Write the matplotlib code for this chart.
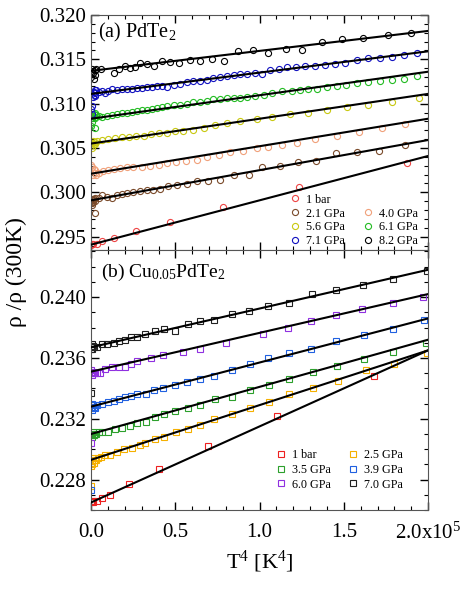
import numpy as np
import matplotlib
matplotlib.use('Agg')
import matplotlib.pyplot as plt

plt.rcParams['font.family'] = ['Liberation Serif', 'DejaVu Serif']
plt.rcParams['mathtext.fontset'] = 'custom'
plt.rcParams['mathtext.rm'] = 'Liberation Serif'
plt.rcParams['mathtext.it'] = 'Liberation Serif:italic'

# T^4 in units of 1e5 K^4, resistivity ratio rho/rho(300K)

# (a) PdTe2
a_labels = ['1 bar', '2.1 GPa', '4.0 GPa', '5.6 GPa', '6.1 GPa', '7.1 GPa', '8.2 GPa']
a_colors = ['#ee4444', '#7a4a2a', '#f0a07a', '#c8c810', '#22bb22', '#1010c0', '#000000']

a_x_1bar = [0.0, 0.005, 0.014, 0.034, 0.063, 0.133, 0.267, 0.469, 0.785, 1.234, 1.873]
a_y_1bar = [0.2941, 0.2942, 0.2942, 0.2942, 0.2945, 0.2949, 0.2956, 0.2967, 0.2983, 0.3006, 0.3033]

a_x_21 = [0.0, 0.004, 0.006, 0.008, 0.010, 0.012, 0.016, 0.020, 0.024, 0.020,
          0.044, 0.063, 0.093, 0.123, 0.152, 0.182, 0.212, 0.251, 0.291, 0.330,
          0.370, 0.409, 0.459, 0.508, 0.568, 0.627, 0.696, 0.766, 0.845, 0.934,
          1.013, 1.122, 1.225, 1.335, 1.454, 1.577, 1.711, 1.860]
a_y_21 = [0.2990, 0.2986, 0.2993, 0.2988, 0.2991, 0.2989, 0.2992, 0.2990, 0.2994, 0.2977,
          0.2994, 0.2997, 0.2995, 0.2994, 0.2997, 0.2998, 0.2999, 0.3000, 0.3002, 0.3003,
          0.3003, 0.3004, 0.3007, 0.3008, 0.3009, 0.3013, 0.3013, 0.3014, 0.3019, 0.3020,
          0.3028, 0.3030, 0.3034, 0.3035, 0.3044, 0.3045, 0.3047, 0.3053]

a_x_40 = [0.0, 0.004, 0.008, 0.012, 0.016, 0.020, 0.024,
          0.030, 0.044, 0.073, 0.103, 0.133, 0.172, 0.212, 0.251, 0.301, 0.350,
          0.400, 0.449, 0.504, 0.564, 0.627, 0.686, 0.756, 0.825, 0.904, 0.983,
          1.052, 1.132, 1.220, 1.329, 1.458, 1.587, 1.725, 1.864]
a_y_40 = [0.3031, 0.3024, 0.3028, 0.3020, 0.3026, 0.3022, 0.3025,
          0.3020, 0.3022, 0.3024, 0.3025, 0.3026, 0.3027, 0.3028, 0.3028, 0.3029, 0.3030,
          0.3031, 0.3033, 0.3034, 0.3035, 0.3037, 0.3040, 0.3042, 0.3045, 0.3047, 0.3050,
          0.3051, 0.3053, 0.3056, 0.3060, 0.3064, 0.3068, 0.3073, 0.3077]

a_x_56 = [0.0, 0.004, 0.008, 0.012, 0.016, 0.020, 0.024,
          0.034, 0.063, 0.103, 0.142, 0.182, 0.222, 0.267, 0.311, 0.354, 0.400,
          0.449, 0.499, 0.544, 0.607, 0.667, 0.736, 0.805, 0.884, 0.983, 1.072,
          1.181, 1.290, 1.399, 1.517, 1.646, 1.784, 1.943]
a_y_56 = [0.3052, 0.3056, 0.3050, 0.3058, 0.3054, 0.3057, 0.3055,
          0.3058, 0.3059, 0.3060, 0.3061, 0.3062, 0.3062, 0.3064, 0.3064, 0.3066, 0.3067,
          0.3067, 0.3069, 0.3069, 0.3070, 0.3073, 0.3076, 0.3078, 0.3080, 0.3083, 0.3085,
          0.3088, 0.3089, 0.3093, 0.3096, 0.3098, 0.3102, 0.3106]

a_x_61 = [0.0, 0.004, 0.008, 0.012, 0.016, 0.020, 0.020, 0.024, 0.024, 0.028,
          0.044, 0.063, 0.093, 0.123, 0.152, 0.182, 0.212, 0.241, 0.271, 0.301,
          0.330, 0.360, 0.390, 0.419, 0.449, 0.489, 0.528, 0.568, 0.607, 0.647,
          0.686, 0.726, 0.766, 0.805, 0.845, 0.884, 0.924, 0.973, 1.023, 1.072,
          1.132, 1.191, 1.240, 1.290, 1.339, 1.399, 1.458, 1.513, 1.577, 1.646,
          1.715, 1.784, 1.854, 1.933]
a_y_61 = [0.3075, 0.3079, 0.3084, 0.3086, 0.3088, 0.3073, 0.3084, 0.3090, 0.3085, 0.3087,
          0.3086, 0.3085, 0.3086, 0.3087, 0.3088, 0.3089, 0.3090, 0.3091, 0.3092, 0.3093,
          0.3093, 0.3094, 0.3095, 0.3096, 0.3097, 0.3098, 0.3098, 0.3100, 0.3102, 0.3102,
          0.3103, 0.3105, 0.3105, 0.3106, 0.3106, 0.3106, 0.3107, 0.3109, 0.3110, 0.3112,
          0.3114, 0.3114, 0.3115, 0.3116, 0.3117, 0.3119, 0.3120, 0.3121, 0.3123, 0.3124,
          0.3126, 0.3127, 0.3128, 0.3131]

a_x_71 = [0.0, 0.004, 0.008, 0.012, 0.016, 0.020, 0.020, 0.024, 0.024, 0.030,
          0.044, 0.063, 0.083, 0.103, 0.123, 0.152, 0.182, 0.212, 0.241, 0.271,
          0.301, 0.330, 0.360, 0.390, 0.419, 0.449, 0.489, 0.528, 0.568, 0.607,
          0.647, 0.686, 0.726, 0.766, 0.805, 0.845, 0.884, 0.924, 0.973, 1.013,
          1.062, 1.112, 1.161, 1.217, 1.270, 1.329, 1.389, 1.448, 1.507, 1.577,
          1.646, 1.715, 1.784, 1.854, 1.933]
a_y_71 = [0.3094, 0.3088, 0.3097, 0.3107, 0.3113, 0.3110, 0.3115, 0.3112, 0.3109, 0.3115,
          0.3113, 0.3114, 0.3112, 0.3114, 0.3116, 0.3115, 0.3116, 0.3117, 0.3117, 0.3118,
          0.3118, 0.3119, 0.3119, 0.3120, 0.3120, 0.3119, 0.3121, 0.3122, 0.3124, 0.3125,
          0.3126, 0.3127, 0.3129, 0.3130, 0.3131, 0.3132, 0.3133, 0.3133, 0.3134, 0.3133,
          0.3138, 0.3139, 0.3141, 0.3141, 0.3142, 0.3143, 0.3144, 0.3145, 0.3146, 0.3149,
          0.3151, 0.3152, 0.3153, 0.3155, 0.3157]

a_x_82 = [0.0, 0.004, 0.008, 0.012, 0.016, 0.020, 0.024, 0.030, 0.057,
          0.133, 0.168, 0.202, 0.231, 0.261, 0.291, 0.334, 0.376, 0.423, 0.469,
          0.524, 0.584, 0.647, 0.716, 0.789, 0.874, 0.958, 1.047, 1.155, 1.254,
          1.369, 1.488, 1.616, 1.759, 1.899]
a_y_82 = [0.3130, 0.3136, 0.3139, 0.3134, 0.3128, 0.3138, 0.3132, 0.3139, 0.3139,
          0.3134, 0.3139, 0.3143, 0.3140, 0.3141, 0.3146, 0.3145, 0.3142, 0.3148, 0.3147,
          0.3146, 0.3149, 0.3148, 0.3150, 0.3148, 0.3159, 0.3160, 0.3157, 0.3162, 0.3160,
          0.3169, 0.3173, 0.3174, 0.3177, 0.3180]

a_x = [a_x_1bar, a_x_21, a_x_40, a_x_56, a_x_61, a_x_71, a_x_82]
a_y = [a_y_1bar, a_y_21, a_y_40, a_y_56, a_y_61, a_y_71, a_y_82]
# linear fits: intercept and slope (per 1e5 K^4)
a_fit_b = [0.2941, 0.2991, 0.3021, 0.3055, 0.3083, 0.3111, 0.3137]
a_fit_k = [0.0050, 0.0034, 0.0031, 0.0028, 0.00265, 0.0024, 0.00225]

# (b) Cu0.05PdTe2
b_labels = ['1 bar', '2.5 GPa', '3.5 GPa', '3.9 GPa', '6.0 GPa', '7.0 GPa']
b_colors = ['#ee2020', '#f5b000', '#2ca02c', '#2060e0', '#9030e0', '#202020']

b_x_1bar = [0.0, 0.005, 0.010, 0.014, 0.034, 0.063, 0.113, 0.222, 0.404, 0.692, 1.102, 1.681]
b_y_1bar = [0.2265, 0.2266, 0.2265, 0.2266, 0.2266, 0.2268, 0.2270, 0.2277, 0.2287, 0.2302, 0.2322, 0.2348]

b_x_25 = [0.0, 0.0, 0.004, 0.008, 0.012, 0.016, 0.020, 0.028, 0.040, 0.060, 0.083,
          0.113, 0.152, 0.196, 0.241, 0.291, 0.320, 0.380, 0.435, 0.502, 0.572,
          0.647, 0.730, 0.835, 0.940, 1.058, 1.177, 1.316, 1.464, 1.632, 1.800, 1.992]
b_y_25 = [0.2276, 0.2289, 0.2292, 0.2290, 0.2294, 0.2291, 0.2293, 0.2293, 0.2294, 0.2295, 0.2296,
          0.2296, 0.2298, 0.2300, 0.2301, 0.2303, 0.2304, 0.2307, 0.2308, 0.2311, 0.2313,
          0.2316, 0.2320, 0.2323, 0.2327, 0.2331, 0.2336, 0.2340, 0.2345, 0.2352, 0.2356, 0.2363]

b_x_35 = [0.0, 0.004, 0.008, 0.012, 0.016, 0.020, 0.030, 0.045, 0.063,
          0.103, 0.142, 0.182, 0.231, 0.275, 0.326, 0.380, 0.435, 0.495, 0.572,
          0.647, 0.736, 0.835, 0.940, 1.058, 1.177, 1.319, 1.458, 1.620, 1.794, 1.986]
b_y_35 = [0.2309, 0.2310, 0.2308, 0.2311, 0.2309, 0.2310, 0.2310, 0.2311, 0.2311,
          0.2311, 0.2313, 0.2314, 0.2315, 0.2317, 0.2318, 0.2321, 0.2323, 0.2325, 0.2327,
          0.2329, 0.2333, 0.2334, 0.2339, 0.2342, 0.2346, 0.2351, 0.2355, 0.2359, 0.2364, 0.2370]

b_x_39 = [0.0, 0.0, 0.004, 0.008, 0.012, 0.016, 0.020,
          0.034, 0.063, 0.099, 0.137, 0.168, 0.202, 0.235, 0.275, 0.326, 0.376,
          0.429, 0.495, 0.568, 0.647, 0.730, 0.835, 0.940, 1.048, 1.175, 1.306,
          1.454, 1.622, 1.790, 1.978]
b_y_39 = [0.2273, 0.2327, 0.2330, 0.2326, 0.2329, 0.2328, 0.2327,
          0.2329, 0.2330, 0.2331, 0.2332, 0.2333, 0.2334, 0.2335, 0.2336, 0.2336, 0.2339,
          0.2340, 0.2342, 0.2344, 0.2346, 0.2348, 0.2352, 0.2356, 0.2360, 0.2363, 0.2366,
          0.2371, 0.2375, 0.2379, 0.2385]

b_x_60 = [0.0, 0.0, 0.004, 0.008, 0.012, 0.016, 0.020, 0.034, 0.054,
          0.083, 0.123, 0.166, 0.202, 0.235, 0.275, 0.354, 0.429, 0.544, 0.647,
          0.801, 1.019, 1.171, 1.306, 1.452, 1.610, 1.790, 1.972]
b_y_60 = [0.2304, 0.2352, 0.2350, 0.2349, 0.2351, 0.2350, 0.2350, 0.2350, 0.2350,
          0.2353, 0.2354, 0.2354, 0.2354, 0.2356, 0.2358, 0.2360, 0.2362, 0.2364, 0.2366,
          0.2370, 0.2376, 0.2380, 0.2384, 0.2388, 0.2392, 0.2396, 0.2400]

b_x_70 = [0.0, 0.0, 0.002, 0.004, 0.008, 0.012, 0.016,
          0.034, 0.063, 0.097, 0.133, 0.166, 0.202, 0.237, 0.275, 0.320, 0.380,
          0.435, 0.495, 0.572, 0.647, 0.730, 0.835, 0.934, 1.052, 1.175, 1.310,
          1.454, 1.612, 1.794, 1.992]
b_y_70 = [0.2337, 0.2367, 0.2366, 0.2369, 0.2366, 0.2368, 0.2367,
          0.2367, 0.2369, 0.2369, 0.2370, 0.2371, 0.2372, 0.2374, 0.2374, 0.2376, 0.2378,
          0.2379, 0.2378, 0.2382, 0.2384, 0.2385, 0.2389, 0.2391, 0.2394, 0.2396, 0.2402,
          0.2405, 0.2408, 0.2412, 0.2417]

b_x = [b_x_1bar, b_x_25, b_x_35, b_x_39, b_x_60, b_x_70]
b_y = [b_y_1bar, b_y_25, b_y_35, b_y_39, b_y_60, b_y_70]
b_fit_b = [0.2265, 0.2293, 0.2310, 0.2328, 0.2351, 0.2367]
b_fit_k = [0.0050, 0.0036, 0.0031, 0.0029, 0.00255, 0.00255]

x_ticks = [0.0, 0.5, 1.0, 1.5, 2.0]
x_ticklabels = ['0.0', '0.5', '1.0', '1.5', '2.0x10$^5$']

fig = plt.figure(figsize=(4.65, 5.89), dpi=100)
ax1 = fig.add_axes([0.196, 0.5756, 0.7247, 0.399])
ax2 = fig.add_axes([0.196, 0.1341, 0.7247, 0.4415])

x_fit = np.array([0.0, 2.0])

# Panel (a)
for xs, ys, c, lab in zip(a_x, a_y, a_colors, a_labels):
    ax1.plot(xs, ys, 'o', mfc='none', mec=c, ms=4.4, mew=0.8, label=lab)
for b, k in zip(a_fit_b, a_fit_k):
    ax1.plot(x_fit, b + k * x_fit, color='black', lw=1.5, zorder=3)

# Panel (b)
for xs, ys, c, lab in zip(b_x, b_y, b_colors, b_labels):
    ax2.plot(xs, ys, 's', mfc='none', mec=c, ms=4.2, mew=0.8, label=lab)
for b, k in zip(b_fit_b, b_fit_k):
    ax2.plot(x_fit, b + k * x_fit, color='black', lw=1.5, zorder=3)

for ax in [ax1, ax2]:
    ax.set_xlim(0, 2.0)
    ax.set_xticks(x_ticks)
    ax.xaxis.set_minor_locator(matplotlib.ticker.MultipleLocator(0.1))
    ax.yaxis.set_minor_locator(matplotlib.ticker.MultipleLocator(0.001))
    ax.tick_params(which='both', direction='in', top=True, right=True, labelsize=15)
    ax.tick_params(which='major', length=6, width=1)
    ax.tick_params(which='minor', length=3, width=0.8)
    ax.tick_params(axis='x', pad=9)
    for s in ax.spines.values():
        s.set_color('#555555')

ax1.set_ylim(0.2935, 0.320)
ax1.set_yticks([0.295, 0.300, 0.305, 0.310, 0.315, 0.320])
ax1.set_yticklabels(['0.295', '0.300', '0.305', '0.310', '0.315', '0.320'])
ax1.set_xticklabels([])

ax2.set_ylim(0.2260, 0.2431)
ax2.set_yticks([0.228, 0.232, 0.236, 0.240])
ax2.set_yticklabels(['0.228', '0.232', '0.236', '0.240'])
ax2.set_xticklabels(x_ticklabels)

ax1.text(0.02, 0.975, '(a) PdTe$_2$', transform=ax1.transAxes, fontsize=14.5, va='top')
ax2.text(0.03, 0.955, '(b) Cu$_{0.05}$PdTe$_2$', transform=ax2.transAxes, fontsize=14, va='top')

leg_kw = dict(ncol=2, loc='lower right', frameon=False, fontsize=8.7, handlelength=1.0,
              handletextpad=0.4, columnspacing=1.4, borderaxespad=0, borderpad=0)

# legend (a): blank slot so second column starts on the second row
h, l = ax1.get_legend_handles_labels()
blank, = ax1.plot([], [], ' ', label=' ')
h = h[:2] + [h[3], h[5], blank, h[2], h[4], h[6]]
l = l[:2] + [l[3], l[5], ' ', l[2], l[4], l[6]]
ax1.legend(h, l, bbox_to_anchor=(0.97, 0.012), labelspacing=0.15, **leg_kw)

h, l = ax2.get_legend_handles_labels()
order = [0, 2, 4, 1, 3, 5]
ax2.legend([h[i] for i in order], [l[i] for i in order],
           bbox_to_anchor=(0.926, 0.075), labelspacing=0.22, **leg_kw)

fig.text(0.036, 0.538, 'ρ /ρ (300K)', rotation=90, fontsize=17, ha='center', va='center')
ax2.set_xlabel('T$^4$ [K$^4$]', fontsize=16, labelpad=4)

fig.savefig('out.png', dpi=100)
